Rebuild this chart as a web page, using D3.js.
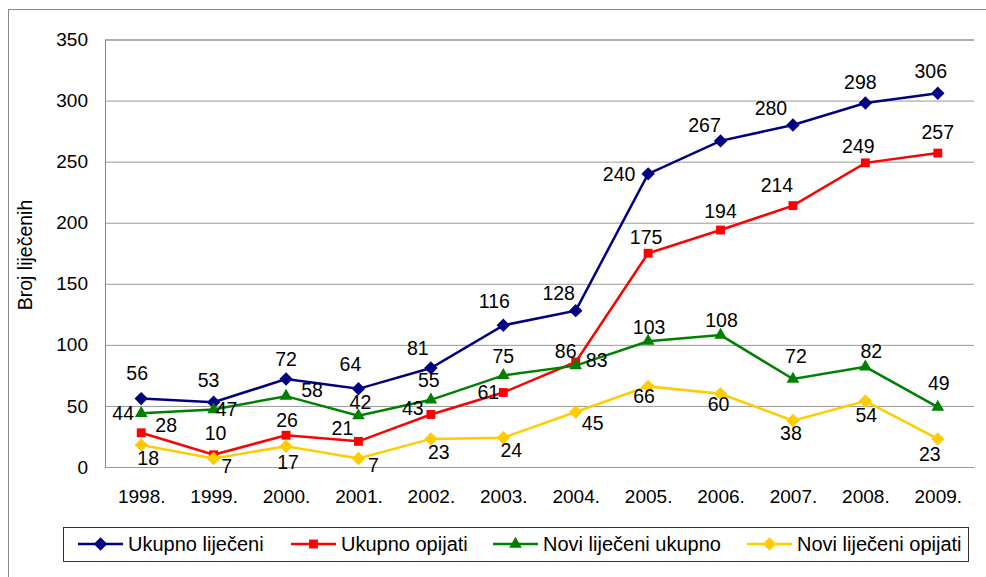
<!DOCTYPE html>
<html>
<head>
<meta charset="utf-8">
<script src="https://cdn.jsdelivr.net/npm/d3@7"></script>
<style>
  body { margin: 0; background: #fff; }
  svg { font-family: "Liberation Sans", Arial, sans-serif; }
</style>
</head>
<body>
<script>
const years = ['1998.', '1999.', '2000.', '2001.', '2002.', '2003.', '2004.', '2005.', '2006.', '2007.', '2008.', '2009.']
const yTicks = [0, 50, 100, 150, 200, 250, 300, 350]

const ukupnoLijeceni = [56, 53, 72, 64, 81, 116, 128, 240, 267, 280, 298, 306]
const ukupnoOpijati = [28, 10, 26, 21, 43, 61, 86, 175, 194, 214, 249, 257]
const noviUkupno = [44, 47, 58, 42, 55, 75, 83, 103, 108, 72, 82, 49]
const noviOpijati = [18, 7, 17, 7, 23, 24, 45, 66, 60, 38, 54, 23]

const seriesNames = ['Ukupno liječeni', 'Ukupno opijati', 'Novi liječeni ukupno', 'Novi liječeni opijati']

// label offsets (dx, dy) from each point, as placed in the original
const labelOffsets = [
  [[-4, -26], [-5, -22], [0, -20], [-8, -25], [-13, -20], [-9, -24], [-17, -18], [-29, 0], [-16, -16], [-22, -17], [-5, -21], [-7, -22]],
  [[25, -8], [2, -22], [1, -15], [-16, -13], [-18, -6], [-15, -1], [-10, -11], [-2, -16], [0, -19], [-16, -21], [-7, -17], [0, -21]],
  [[-18, 0], [13, -1], [26, -6], [2, -14], [-2, -20], [0, -19], [21, -6], [1, -14], [1, -15], [3, -23], [6, -16], [1, -24]],
  [[7, 13], [13, 8], [2, 16], [15, 7], [8, 13], [8, 12], [17, 11], [-4, 10], [-2, 10], [-2, 12], [1, 14], [-8, 15]]
]

const colors = ['#000080', '#ff0000', '#008000', '#ffcc00']
const symbols = [d3.symbolDiamond2, d3.symbolSquare2, d3.symbolTriangle2, d3.symbolDiamond2]

const W = 986, H = 577
const plotLeft = 105, plotRight = 974, plotTop = 39.5, plotBottom = 467

const svg = d3.select('body').append('svg')
  .attr('width', W)
  .attr('height', H)

// outer chart frame
svg.append('rect')
  .attr('x', 8.5).attr('y', 9.5)
  .attr('width', 1000).attr('height', 600)
  .attr('fill', 'none')
  .attr('stroke', '#888')

const x = d3.scalePoint().domain(years).range([plotLeft, plotRight]).padding(0.5)
const y = d3.scaleLinear().domain([0, 350]).range([plotBottom, plotTop])

const yAxis = d3.axisLeft(y).tickValues(yTicks).tickSize(-(plotRight - plotLeft)).tickPadding(17)
const gy = svg.append('g')
  .attr('transform', `translate(${plotLeft},0)`)
  .call(yAxis)
gy.select('.domain').attr('stroke', '#888')
gy.selectAll('.tick line').attr('stroke', '#999')
gy.selectAll('.tick text').attr('font-size', 19).attr('fill', '#000')

const xAxis = d3.axisBottom(x).tickSize(0).tickPadding(23)
const gx = svg.append('g')
  .attr('transform', `translate(0,${plotBottom})`)
  .call(xAxis)
gx.select('.domain').attr('stroke', '#999')
gx.selectAll('.tick text').attr('font-size', 19).attr('fill', '#000')

svg.append('text')
  .attr('transform', `translate(32,255) rotate(-90)`)
  .attr('text-anchor', 'middle')
  .attr('font-size', 19.5)
  .text('Broj liječenih')

const allSeries = [ukupnoLijeceni, ukupnoOpijati, noviUkupno, noviOpijati]
const line = d3.line().x((d, i) => x(years[i])).y(d => y(d))

allSeries.forEach((data, s) => {
  svg.append('path')
    .datum(data)
    .attr('d', line)
    .attr('fill', 'none')
    .attr('stroke', colors[s])
    .attr('stroke-width', 2.5)

  svg.selectAll(null)
    .data(data)
    .enter()
    .append('path')
    .attr('d', d3.symbol().type(symbols[s]).size(s === 1 ? 100 : 115))
    .attr('transform', (d, i) => `translate(${x(years[i])},${y(d)})`)
    .attr('fill', colors[s])
})

// data labels drawn on top
allSeries.forEach((data, s) => {
  svg.selectAll(null)
    .data(data)
    .enter()
    .append('text')
    .attr('x', (d, i) => x(years[i]) + labelOffsets[s][i][0])
    .attr('y', (d, i) => y(d) + labelOffsets[s][i][1])
    .attr('dy', '0.36em')
    .attr('text-anchor', 'middle')
    .attr('font-size', 19.5)
    .attr('fill', '#000')
    .text(d => d)
})

// legend
const legend = svg.append('g')
legend.append('rect')
  .attr('x', 63.5).attr('y', 527.5)
  .attr('width', 905).attr('height', 34)
  .attr('fill', '#fff')
  .attr('stroke', '#333')

const legendX = [78, 291, 493, 747]
const legendY = 544
seriesNames.forEach((name, s) => {
  const g = legend.append('g').attr('transform', `translate(${legendX[s]},${legendY})`)
  g.append('line')
    .attr('x1', 0).attr('x2', 45)
    .attr('stroke', colors[s])
    .attr('stroke-width', 2.5)
  g.append('path')
    .attr('d', d3.symbol().type(symbols[s]).size(s === 1 ? 100 : 115))
    .attr('transform', 'translate(22.5,0)')
    .attr('fill', colors[s])
  g.append('text')
    .attr('x', 50)
    .attr('dy', '0.35em')
    .attr('font-size', 20)
    .text(name)
})
</script>
</body>
</html>
